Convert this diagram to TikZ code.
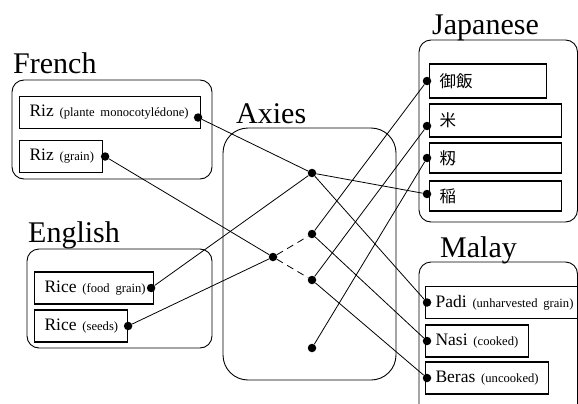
\documentclass[tikz,border=0pt]{standalone}
\usepackage{fontspec}
\setmainfont{Liberation Serif}
\newfontfamily\jafont{Noto Sans CJK JP}
\newcommand\gloss[2]{\mbox{#1 {\fontsize{12.6}{14}\selectfont #2}}}
\begin{document}
\begin{tikzpicture}[x=1pt,y=-1pt,
  every node/.style = {inner sep=0pt},
  group/.style = {draw, line width=0.9pt, rounded corners=12pt},
  lang/.style  = {anchor=base west, font=\fontsize{30}{32}\selectfont},
  word/.style  = {draw, line width=1.1pt, anchor=west, minimum height=32pt,
    inner xsep=10pt, align=left, font=\fontsize{17.5}{20}\selectfont},
  jword/.style = {word, font=\fontsize{16.5}{18}\jafont},
  dot/.style   = {circle, fill=black, minimum size=8.5pt},
  link/.style  = {line width=0.8pt},
  weak/.style  = {link, dash pattern=on 7pt off 5pt}]
\useasboundingbox (0,0) rectangle (578,404);
\clip (0,0) rectangle (578,404);
\draw[group] (12,80) rectangle (212,179);
\draw[group] (27,249) rectangle (212,348);
\draw[group, rounded corners=25pt] (223,128) rectangle (396,380);
\draw[group] (419,40) rectangle (577.5,222);
\draw[group] (419,262) rectangle (577.5,420);
\node[lang] (french)   at (13,74)  {French};
\node[lang] (english)  at (28,242) {English};
\node[lang] (axies)    at (236,123) {Axies};
\node[lang] (japanese) at (432,35) {Japanese};
\node[lang] (malay)    at (440,257) {Malay};
\node[word, text width=161pt] (rizplant) at (19,112.5) {\gloss{Riz}{(plante monocotylédone)}};
\node[word, text width=63pt]  (rizgrain) at (19,156.5) {\gloss{Riz}{(grain)}};
\node[word, text width=99pt]  (ricefood) at (34,288)   {\gloss{Rice}{(food grain)}};
\node[word, text width=73pt]  (riceseed) at (34,326)   {\gloss{Rice}{(seeds)}};
\node[jword, text width=97pt,  minimum height=34pt] (gohan) at (429,81)    {御飯};
\node[jword, text width=112pt, minimum height=33pt] (kome)  at (429,120.5) {米};
\node[jword, text width=112pt, minimum height=30pt] (momi)  at (429,158)   {籾};
\node[jword, text width=112pt, minimum height=30pt] (ine)   at (429,196)   {稲};
\node[word, text width=132pt] (padi)  at (425,302.5) {\gloss{Padi}{(unharvested grain)}};
\node[word, text width=83pt]  (nasi)  at (425,341)   {\gloss{Nasi}{(cooked)}};
\node[word, text width=103pt] (beras) at (425,378)   {\gloss{Beras}{(uncooked)}};
\node[dot] (fr1) at ([shift={(-3,5)}]rizplant.east) {};
\node[dot] (fr2) at ([xshift=2pt]rizgrain.east) {};
\node[dot] (en1) at ([xshift=-3pt]ricefood.east) {};
\node[dot] (en2) at (riceseed.east) {};
\node[dot] (ja1) at ([xshift=-2pt]gohan.west) {};
\node[dot] (ja2) at ([shift={(-2,5.5)}]kome.west) {};
\node[dot] (ja3) at ([xshift=-2pt]momi.west) {};
\node[dot] (ja4) at ([shift={(-2,-2)}]ine.west) {};
\node[dot] (ms1) at ([xshift=2pt]padi.west) {};
\node[dot] (ms2) at ([xshift=2pt]nasi.west) {};
\node[dot] (ms3) at ([xshift=2pt]beras.west) {};
\node[dot] (ax0) at (273,257) {};
\node[dot] (ax1) at (312,173) {};
\node[dot] (ax2) at (312,234) {};
\node[dot] (ax3) at (312,280) {};
\node[dot] (ax4) at (312,348) {};
\draw[link] (fr1) -- (ax1);
\draw[link] (en1) -- (ax1);
\draw[link] (fr2) -- (ax0);
\draw[link] (en2) -- (ax0);
\draw[weak] (ax0) -- (ax2);
\draw[weak] (ax0) -- (ax3);
\draw[link] (ax1) -- (ja4);
\draw[link] (ax1) -- (ms1);
\draw[link] (ax2) -- (ja1);
\draw[link] (ax2) -- (ms2);
\draw[link] (ax3) -- (ja2);
\draw[link] (ax3) -- (ms3);
\draw[link] (ax4) -- (ja3);
\end{tikzpicture}
\end{document}
